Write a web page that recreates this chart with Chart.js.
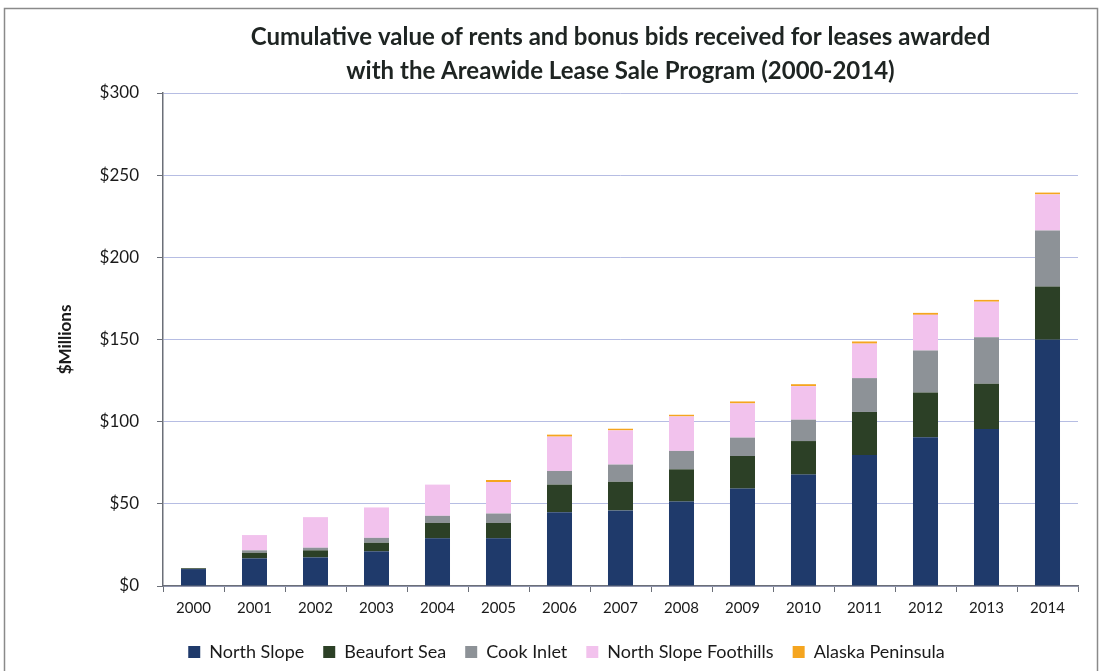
<!DOCTYPE html>
<html>
<head>
<meta charset="utf-8">
<script src="https://cdn.jsdelivr.net/npm/chart.js@4"></script>
<style>
  html, body { margin: 0; padding: 0; background: #fff; }
  #wrap { width: 1102px; height: 671px; position: relative; }
</style>
</head>
<body>
<div id="wrap"><canvas id="leaseChart" width="1102" height="671"></canvas></div>
<script>
// years on the x axis
const years = ['2000','2001','2002','2003','2004','2005','2006','2007','2008','2009','2010','2011','2012','2013','2014'];

// $ millions per region (stacked)
const northSlope    = [10.3, 16.8, 17.4, 21.1, 29.0, 29.0, 44.9, 46.0, 51.4, 59.3, 67.8, 79.7, 90.5, 95.5, 149.8];
const beaufortSea   = [0.5, 3.4, 4.3, 5.2, 9.4, 9.4, 16.8, 17.4, 19.6, 19.8, 20.4, 26.2, 27.3, 27.6, 32.5];
const cookInlet     = [0, 1.5, 1.6, 3.0, 4.3, 5.7, 8.3, 10.5, 11.2, 11.2, 13.0, 20.6, 25.5, 28.3, 34.0];
const nsFoothills   = [0, 9.3, 18.6, 18.5, 19.0, 19.2, 20.9, 20.8, 21.0, 20.8, 20.4, 21.0, 21.7, 21.6, 22.0];
const akPeninsula   = [0, 0, 0, 0, 0, 1.2, 1.2, 1.0, 1.0, 1.2, 1.2, 1.3, 1.2, 1.1, 1.1];

const yTicks = [0, 50, 100, 150, 200, 250, 300];

const titleLines = ['Cumulative value of rents and bonus bids received for leases awarded',
                    'with the Areawide Lease Sale Program (2000-2014)'];

const fontFam = "Lato, 'Open Sans', sans-serif";

// frame round the picture + title centred over the plot area
const framePlugin = {
  id: 'frame',
  afterDraw(chart) {
    const c = chart.ctx;
    c.save();
    c.strokeStyle = '#8a8a8a';
    c.lineWidth = 1.5;
    c.strokeRect(4.5, 8.5, 1093, 700);

    const area = chart.chartArea;
    const cx = (area.left + area.right) / 2;
    c.fillStyle = '#1e2422';
    c.font = 'bold 24px ' + fontFam;
    c.textAlign = 'center';
    c.textBaseline = 'middle';
    c.fillText(titleLines[0], cx, 37);
    c.fillText(titleLines[1], cx, 71);
    c.restore();
  }
};

function mkSet(label, data, color) {
  return {
    label: label,
    data: data,
    backgroundColor: color,
    borderWidth: 0,
    categoryPercentage: 1.0,
    barPercentage: 0.41
  };
}

let ctx = document.getElementById('leaseChart').getContext('2d');
let myChart = new Chart(ctx, {
  type: 'bar',
  data: {
    labels: years,
    datasets: [
      mkSet('North Slope', northSlope, '#1f3a6b'),
      mkSet('Beaufort Sea', beaufortSea, '#2c4026'),
      mkSet('Cook Inlet', cookInlet, '#8d9297'),
      mkSet('North Slope Foothills', nsFoothills, '#f2c2ed'),
      mkSet('Alaska Peninsula', akPeninsula, '#f5a51f')
    ]
  },
  options: {
    responsive: false,
    animation: false,
    layout: { padding: { left: 55, right: 24, top: 93, bottom: 0 } },
    plugins: {
      title: { display: false },
      legend: {
        position: 'bottom',
        labels: {
          color: '#1a1a1a',
          font: { family: fontFam, size: 18 },
          boxWidth: 12,
          boxHeight: 12,
          padding: 19
        }
      },
      tooltip: { enabled: false }
    },
    scales: {
      x: {
        stacked: true,
        grid: {
          offset: true,
          drawOnChartArea: false,
          drawTicks: true,
          tickLength: 6,
          color: '#6b6f78'
        },
        border: { color: '#6b6f78', width: 1.5 },
        ticks: {
          color: '#1a1a1a',
          font: { family: fontFam, size: 15 },
          padding: 7
        }
      },
      y: {
        stacked: true,
        min: 0,
        max: 300,
        afterBuildTicks(scale) {
          scale.ticks = yTicks.map(v => ({ value: v }));
        },
        afterFit(scale) { scale.width = 108; },
        grid: {
          color: '#b6bde3',
          tickColor: '#6b6f78',
          tickLength: 6
        },
        border: { color: '#6b6f78', width: 1.5 },
        ticks: {
          color: '#1a1a1a',
          font: { family: fontFam, size: 17 },
          padding: 18,
          callback: v => '$' + v
        },
        title: {
          display: true,
          text: '$Millions',
          color: '#1a1a1a',
          font: { family: fontFam, size: 17, weight: 'bold' },
          padding: { top: 0, bottom: 0 }
        }
      }
    }
  },
  plugins: [framePlugin]
});
</script>
</body>
</html>
